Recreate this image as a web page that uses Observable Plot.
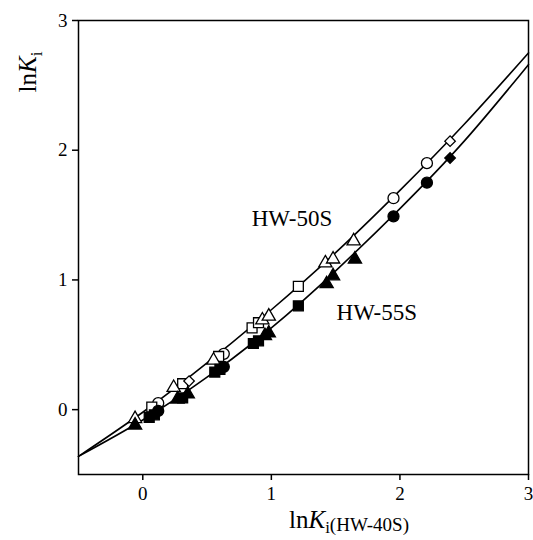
<!DOCTYPE html>
<html>
<head>
<meta charset="utf-8">
<script src="https://cdn.jsdelivr.net/npm/d3@7"></script>
<script src="https://cdn.jsdelivr.net/npm/@observablehq/plot@0.6"></script>
<style>
  html, body { margin: 0; padding: 0; background: #fff; }
  #chart { width: 533px; height: 540px; }
</style>
</head>
<body>
<div id="chart"></div>
<script>
// HW-50S (open symbols)
const x50 = [-0.06, 0.07, 0.12, 0.24, 0.31, 0.36, 0.55, 0.59, 0.63, 0.85, 0.90, 0.93, 0.98, 1.21, 1.42, 1.48, 1.64, 1.95, 2.21, 2.39];
const y50 = [-0.07, 0.02, 0.05, 0.17, 0.20, 0.22, 0.38, 0.41, 0.43, 0.63, 0.67, 0.69, 0.72, 0.95, 1.13, 1.16, 1.30, 1.63, 1.90, 2.07];
const s50 = ["triangle","square","circle","triangle","square","diamond","triangle","square","circle","square","square","triangle","triangle","square","triangle","triangle","triangle","circle","circle","diamond"];
// HW-55S (filled symbols)
const x55 = [-0.06, 0.05, 0.09, 0.12, 0.27, 0.31, 0.35, 0.56, 0.60, 0.63, 0.86, 0.90, 0.95, 0.98, 1.21, 1.43, 1.48, 1.65, 1.95, 2.21, 2.39];
const y55 = [-0.12, -0.06, -0.04, -0.01, 0.08, 0.09, 0.12, 0.29, 0.31, 0.33, 0.51, 0.53, 0.57, 0.59, 0.80, 0.97, 1.03, 1.16, 1.49, 1.75, 1.94];
const s55 = ["triangle","square","square","circle","triangle","square","triangle","square","square","circle","square","square","triangle","triangle","square","triangle","triangle","triangle","circle","circle","diamond"];
// fitted curves
const xFit = [-0.5, 0, 0.5, 1, 1.5, 2, 2.5, 3];
const yFit50 = [-0.36, -0.02, 0.36, 0.77, 1.21, 1.69, 2.20, 2.75];
const yFit55 = [-0.36, -0.08, 0.25, 0.63, 1.07, 1.55, 2.07, 2.66];
const xTicks = [0, 1, 2, 3];
const yTicks = [0, 1, 2, 3];
const labels = [{x: 1.16, y: 1.47, t: "HW-50S"}, {x: 1.82, y: 0.75, t: "HW-55S"}];

const pts50 = x50.map((x, i) => ({x, y: y50[i], s: s50[i]}));
const pts55 = x55.map((x, i) => ({x, y: y55[i], s: s55[i]}));
const fit50 = xFit.map((x, i) => ({x, y: yFit50[i]}));
const fit55 = xFit.map((x, i) => ({x, y: yFit55[i]}));

const FONT = "Liberation Serif, Times New Roman, serif";
const sizes = {circle: 5.5, square: 5.6, triangle: 4.9};

function shapeMarks(pts, fill) {
  const marks = [];
  for (const s of ["circle", "square", "triangle"]) {
    marks.push(Plot.dot(pts.filter(d => d.s === s), {x: "x", y: "y", symbol: s, r: sizes[s], fill, stroke: "#000", strokeWidth: 1.3}));
  }
  marks.push(Plot.dot(pts.filter(d => d.s === "diamond"), {x: "x", y: "y", symbol: "square", rotate: 45, r: 4.2, fill, stroke: "#000", strokeWidth: 1.3}));
  return marks;
}

const plot = Plot.plot({
  width: 533,
  height: 540,
  marginLeft: 78,
  marginRight: 5,
  marginTop: 20,
  marginBottom: 66,
  style: {fontFamily: FONT, fontSize: "18px", background: "#fff", color: "#000"},
  x: {domain: [-0.5, 3], ticks: xTicks, tickFormat: d3.format("d"), tickSize: 6, tickPadding: 6, label: null},
  y: {domain: [-0.5, 3], ticks: yTicks, tickFormat: d3.format("d"), tickSize: 6, tickPadding: 5, label: null},
  marks: [
    Plot.frame({stroke: "#000", strokeWidth: 1.5}),
    Plot.line(fit50, {x: "x", y: "y", curve: "natural", stroke: "#000", strokeWidth: 1.6}),
    Plot.line(fit55, {x: "x", y: "y", curve: "natural", stroke: "#000", strokeWidth: 1.6}),
    ...shapeMarks(pts50, "#fff"),
    ...shapeMarks(pts55, "#000"),
    Plot.text(labels, {x: "x", y: "y", text: "t", fontSize: 23, fontFamily: FONT, fill: "#000"})
  ]
});

const svg = d3.select(plot);
svg.selectAll("[aria-label='x-axis tick'], [aria-label='y-axis tick']").attr("stroke-width", 1.5);
svg.selectAll("[aria-label='x-axis tick label'] text, [aria-label='y-axis tick label'] text").attr("font-size", 19);

// y-axis label: lnK_i (rotated)
const yl = svg.append("text")
  .attr("transform", "translate(36,72) rotate(-90)")
  .attr("text-anchor", "middle")
  .attr("font-family", FONT)
  .attr("font-size", 25)
  .attr("fill", "#000");
yl.append("tspan").text("ln");
yl.append("tspan").attr("font-style", "italic").text("K");
yl.append("tspan").attr("font-size", 17).attr("dy", 6).text("i");

// x-axis label: lnK_i(HW-40S)
const xl = svg.append("text")
  .attr("x", 349)
  .attr("y", 528)
  .attr("text-anchor", "middle")
  .attr("font-family", FONT)
  .attr("font-size", 25)
  .attr("fill", "#000");
xl.append("tspan").text("ln");
xl.append("tspan").attr("font-style", "italic").text("K");
xl.append("tspan").attr("font-size", 17).attr("dy", 5).text("i");
xl.append("tspan").attr("font-size", 19).attr("dy", -2).text("(HW-40S)");

document.getElementById("chart").appendChild(plot);
</script>
</body>
</html>
